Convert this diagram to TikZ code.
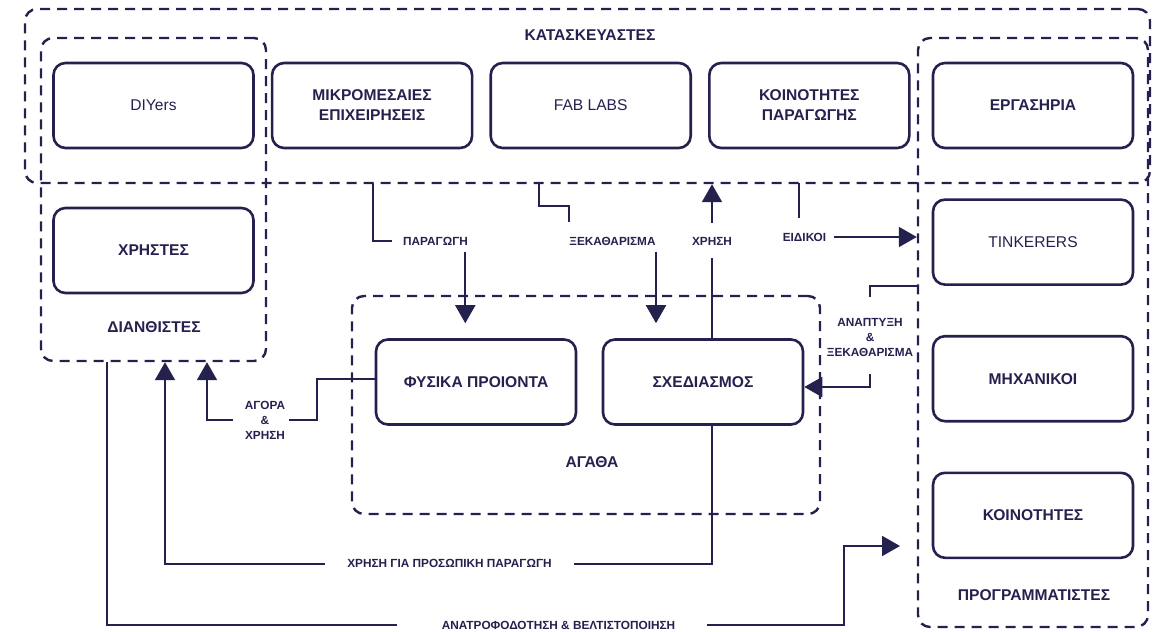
\documentclass[tikz,border=0pt]{standalone}
\usepackage{fontspec}
\setmainfont{Liberation Sans}
\usepackage{xcolor}
\usepackage{tikz}
\usetikzlibrary{arrows.meta, positioning}
\definecolor{ink}{HTML}{25214F}
\tikzstyle{group} = [draw=ink, line width=1.2pt, dash pattern=on 5pt off 3.5pt, rounded corners=6pt, inner sep=0pt]
\tikzstyle{box} = [draw=ink, line width=1.3pt, rounded corners=6pt, minimum width=100pt, minimum height=42.5pt, align=center, text=ink, font=\fontsize{7.8}{10}\selectfont\bfseries]
\tikzstyle{thinbox} = [box, font=\fontsize{7.8}{10}\selectfont]
\tikzstyle{title} = [text=ink, font=\fontsize{7.8}{10}\selectfont\bfseries]
\tikzstyle{tag} = [text=ink, font=\fontsize{5.9}{7.5}\selectfont\bfseries, align=center, inner xsep=0pt, inner ysep=3pt]
\tikzstyle{line} = [draw=ink, line width=1pt]
\tikzstyle{arrow} = [line, ->]

\begin{document}
\begin{tikzpicture}[>={Triangle[length=9pt,width=10pt]}, x=0.5pt, y=-0.5pt]
        \useasboundingbox (0,0) rectangle (1159,631);

        % Dashed groups
        \node[group, minimum width=562.5pt, minimum height=87pt] (kataskevastes) at (587.5,96) {};
        \node[group, minimum width=112.5pt, minimum height=161.5pt] (diathistes) at (153.5,199.5) {};
        \node[group, minimum width=115pt, minimum height=294.5pt] (programmatistes) at (1033,332.5) {};
        \node[group, minimum width=234pt, minimum height=109pt] (agatha) at (586,405) {};

        \node[title] (katTitle) at (590,35) {ΚΑΤΑΣΚΕΥΑΣΤΕΣ};
        \node[title] (diaTitle) at (154,327) {ΔΙΑΝΘΙΣΤΕΣ};
        \node[title] (agaTitle) at (592,462) {ΑΓΑΘΑ};
        \node[title] (proTitle) at (1034,595) {ΠΡΟΓΡΑΜΜΑΤΙΣΤΕΣ};

        % Top row
        \node[thinbox] (diyers) at (153.5,105.5) {DIYers};
        \node[box] (mikro) [right=8pt of diyers] {ΜΙΚΡΟΜΕΣΑΙΕΣ\\ΕΠΙΧΕΙΡΗΣΕΙΣ};
        \node[thinbox] (fablabs) [right=8pt of mikro] {FAB LABS};
        \node[box] (koinParagogis) [right=8pt of fablabs] {ΚΟΙΝΟΤΗΤΕΣ\\ΠΑΡΑΓΩΓΗΣ};
        \node[box] (ergastiria) at (1033,105.5) {ΕΡΓΑΣΗΡΙΑ};

        % Left and right columns
        \node[box] (xristes) [below=28.7pt of diyers] {ΧΡΗΣΤΕΣ};
        \node[thinbox] (tinkerers) [below=24.5pt of ergastiria] {TINKERERS};
        \node[box] (mixanikoi) [below=24.5pt of tinkerers] {ΜΗΧΑΝΙΚΟΙ};
        \node[box] (koinotites) [below=24.5pt of mixanikoi] {ΚΟΙΝΟΤΗΤΕΣ};

        % Middle
        \node[box] (fysika) at (476,382) {ΦΥΣΙΚΑ ΠΡΟΙΟΝΤΑ};
        \node[box] (sxediasmos) [right=12.2pt of fysika] {ΣΧΕΔΙΑΣΜΟΣ};

        % Connector labels
        \node[tag] (lblPar) at (435.5,241) {ΠΑΡΑΓΩΓΗ};
        \node[tag] (lblXek) at (612.5,241) {ΞΕΚΑΘΑΡΙΣΜΑ};
        \node[tag] (lblXr) at (712,241) {ΧΡΗΣΗ};
        \node[tag] (lblEid) at (804.5,237) {ΕΙΔΙΚΟΙ};
        \node[tag] (lblAn) at (870,337) {ΑΝΑΠΤΥΞΗ\\\&\\ΞΕΚΑΘΑΡΙΣΜΑ};
        \node[tag] (lblAg) at (265,420) {ΑΓΟΡΑ\\\&\\ΧΡΗΣΗ};
        \node[tag] (lblPros) at (449.5,563.5) {ΧΡΗΣΗ ΓΙΑ ΠΡΟΣΩΠΙΚΗ ΠΑΡΑΓΩΓΗ};
        \node[tag] (lblAna) at (558.5,625) {ΑΝΑΤΡΟΦΟΔΟΤΗΣΗ \& ΒΕΛΤΙΣΤΟΠΟΙΗΣΗ};

        \coordinate (parTop) at (373,183);
        \coordinate (xekTop) at (539,183);
        \coordinate (eidTop) at (799,183);
        \coordinate (agUp) at (207,361);
        \coordinate (prosUp) at (165,361);
        \coordinate (anaLeft) at (107,625);
        \coordinate (anaTip) at (900,546);

        % Connectors
        \draw[line, shorten >=5.5pt] (parTop) |- (lblPar.west);
        \draw[arrow, shorten >=7.5pt] ([xshift=-1.5pt]lblPar.south east) -- ([xshift=-1.5pt]lblPar.south east |- fysika.north);

        \draw[line, shorten >=4pt] (xekTop) -- ++(0,23) -| (lblXek.north west);
        \draw[arrow, shorten >=7.5pt] (lblXek.south east) -- (lblXek.south east |- sxediasmos.north);

        \draw[line, shorten >=3.5pt] (sxediasmos.north -| lblXr) -- (lblXr.south);
        \draw[arrow, shorten <=4pt] (lblXr.north) -- (lblXr |- kataskevastes.south);

        \draw[line, shorten >=4pt] (eidTop) -- (eidTop |- lblEid.north);
        \draw[arrow, shorten <=3.5pt] (lblEid.east) -- (lblEid.east -| programmatistes.west);

        \draw[line, shorten >=7pt] (tinkerers.south -| programmatistes.west) -| (lblAn.north);
        \draw[arrow, shorten <=5.5pt] (lblAn.south) |- ([yshift=-2.5pt]sxediasmos.east);

        \draw[line, shorten >=1.5pt] ([yshift=1.5pt]fysika.west) -- ++(-58,0) |- (lblAg.east);
        \draw[arrow, shorten <=5.5pt] (lblAg.west) -| (agUp |- diathistes.south);

        \draw[line, shorten >=11pt] (sxediasmos.south -| lblXr) |- (lblPros.east);
        \draw[arrow, shorten <=11pt] (lblPros.west) -| (prosUp |- diathistes.south);

        \draw[line, shorten >=22pt] (diathistes.south -| anaLeft) |- (lblAna.west);
        \draw[arrow, shorten <=15.5pt] (lblAna.east) -| ([xshift=-28pt]anaTip) -- (anaTip);

    \end{tikzpicture}
\end{document}
